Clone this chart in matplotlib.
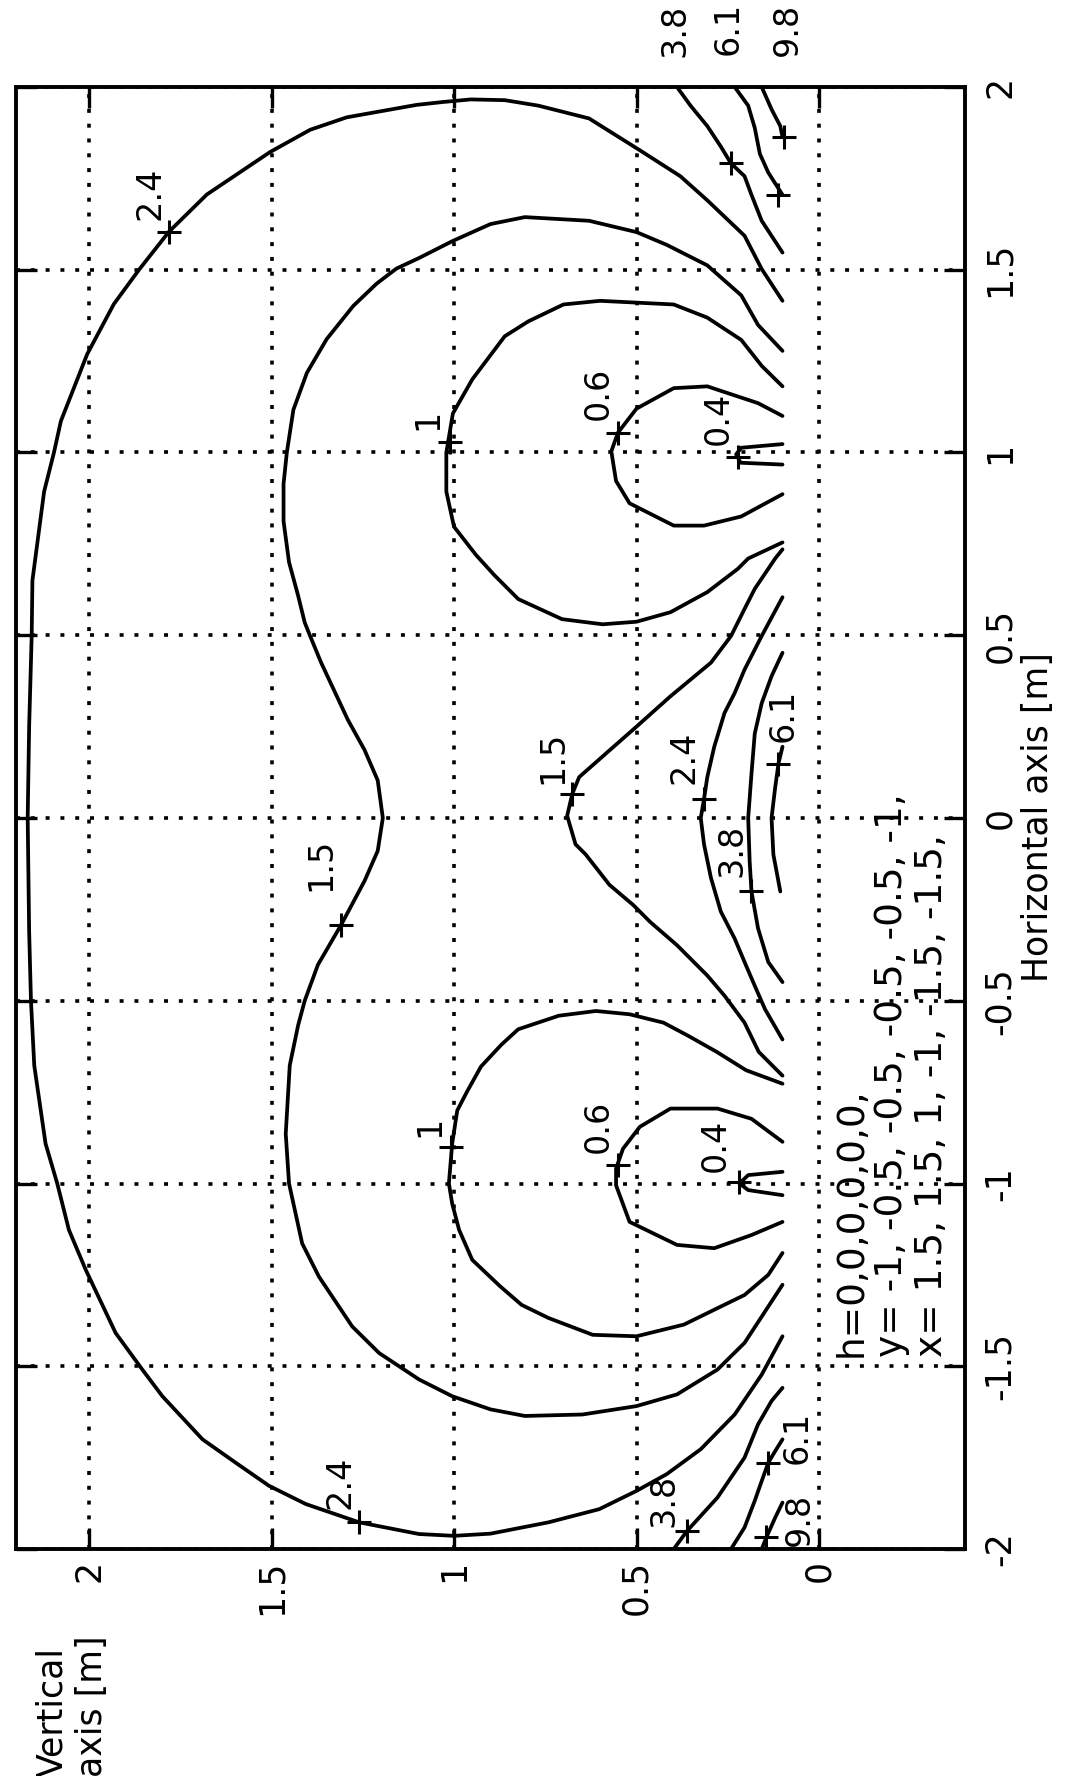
import matplotlib
matplotlib.use('Agg')
import matplotlib.pyplot as plt
import numpy as np

plt.rcParams['font.family'] = ['DejaVu Sans']
plt.rcParams['axes.unicode_minus'] = False

# ---------------- data (original coordinates: x = horizontal axis, y = vertical axis) -------------
# level 2.4, outer curve
c24o_x = [1.415, 1.502, 1.593, 1.690, 1.756, 1.827, 1.914, 1.949, 1.964, 1.966, 1.959, 1.951, 1.917, 1.883,
          1.822, 1.706, 1.604, 1.5, 1.406, 1.269, 1.086, 1.0, 0.893, 0.65, 0.5, 0.25, 0.0, -0.31, -0.5,
          -0.677, -0.891, -1.0, -1.127, -1.236, -1.409, -1.509, -1.582, -1.7, -1.764, -1.827, -1.877,
          -1.927, -1.959, -1.964, -1.958, -1.927, -1.891, -1.841, -1.795, -1.727, -1.632, -1.523, -1.418]
c24o_y = [0.10, 0.157, 0.204, 0.306, 0.380, 0.491, 0.630, 0.769, 0.861, 0.954, 1.03, 1.103, 1.294, 1.394,
          1.504, 1.677, 1.781, 1.863, 1.932, 2.005, 2.077, 2.096, 2.123, 2.155, 2.157, 2.164, 2.168, 2.164,
          2.159, 2.150, 2.119, 2.087, 2.055, 2.009, 1.927, 1.854, 1.799, 1.689, 1.598, 1.507, 1.406, 1.260,
          1.096, 1.0, 0.9, 0.741, 0.602, 0.5, 0.417, 0.324, 0.231, 0.157, 0.10]
# level 1.5, outer curve
c15o_x = [1.278, 1.349, 1.430, 1.512, 1.568, 1.603, 1.634, 1.644, 1.625, 1.579, 1.533, 1.503, 1.462, 1.401,
          1.310, 1.218, 1.117, 1.0, 0.914, 0.812, 0.70, 0.608, 0.535, 0.5, 0.425, 0.269, 0.186, 0.103, 0.0,
          -0.09, -0.172, -0.292, -0.402, -0.5, -0.567, -0.677, -0.864, -1.0, -1.164, -1.255, -1.391, -1.464,
          -1.536, -1.582, -1.618, -1.636, -1.632, -1.609, -1.577, -1.509, -1.436, -1.323, -1.277]
c15o_y = [0.10, 0.167, 0.213, 0.306, 0.417, 0.5, 0.630, 0.806, 0.9, 1.003, 1.094, 1.158, 1.212, 1.276,
          1.349, 1.403, 1.440, 1.458, 1.467, 1.467, 1.452, 1.427, 1.409, 1.395, 1.364, 1.291, 1.245, 1.209,
          1.195, 1.209, 1.245, 1.309, 1.373, 1.409, 1.427, 1.450, 1.461, 1.452, 1.416, 1.370, 1.279, 1.205,
          1.096, 1.005, 0.9, 0.806, 0.648, 0.5, 0.389, 0.278, 0.204, 0.130, 0.10]
# level 1.5, central curve
c15c_x = [0.735, 0.71, 0.627, 0.572, 0.498, 0.425, 0.333, 0.250, 0.185, 0.112, 0.066, 0.006, -0.072, -0.1,
          -0.183, -0.238, -0.284, -0.348, -0.431, -0.486, -0.56, -0.64, -0.705]
c15c_y = [0.10, 0.12, 0.176, 0.204, 0.241, 0.296, 0.407, 0.5, 0.574, 0.657, 0.676, 0.690, 0.667, 0.639,
          0.574, 0.509, 0.463, 0.389, 0.306, 0.259, 0.204, 0.165, 0.10]
# level 1, right lobe
c1r_x = [0.754, 0.71, 0.682, 0.618, 0.563, 0.537, 0.530, 0.544, 0.599, 0.664, 0.72, 0.797, 0.893, 1.0,
         1.107, 1.2, 1.318, 1.359, 1.405, 1.415, 1.405, 1.369, 1.308, 1.237, 1.181]
c1r_y = [0.10, 0.194, 0.222, 0.306, 0.407, 0.5, 0.593, 0.704, 0.824, 0.889, 0.94, 1.0, 1.021, 1.021,
         1.003, 0.95, 0.861, 0.796, 0.7, 0.60, 0.398, 0.306, 0.213, 0.157, 0.10]
# level 1, left lobe
c1l_x = [-0.727, -0.69, -0.64, -0.595, -0.56, -0.537, -0.528, -0.541, -0.578, -0.62, -0.68, -0.75, -0.8,
         -0.891, -1.0, -1.055, -1.127, -1.209, -1.28, -1.332, -1.368, -1.414, -1.418, -1.386, -1.341,
         -1.305, -1.25, -1.19]
c1l_y = [0.10, 0.2, 0.28, 0.36, 0.426, 0.519, 0.611, 0.713, 0.824, 0.87, 0.926, 0.965, 0.991, 1.005,
         1.014, 1.005, 0.986, 0.950, 0.875, 0.815, 0.741, 0.620, 0.5, 0.370, 0.278, 0.204, 0.139, 0.10]
# level 0.6
c06r_x = [1.100, 1.135, 1.181, 1.176, 1.120, 1.054, 1.003, 0.922, 0.861, 0.800, 0.800, 0.825, 0.886]
c06r_y = [0.10, 0.167, 0.306, 0.398, 0.5, 0.551, 0.569, 0.556, 0.519, 0.398, 0.315, 0.213, 0.10]
c06l_x = [-0.886, -0.823, -0.795, -0.795, -0.845, -0.905, -0.959, -1.005, -1.105, -1.168, -1.177, -1.141, -1.105]
c06l_y = [0.10, 0.185, 0.278, 0.407, 0.491, 0.537, 0.556, 0.556, 0.519, 0.389, 0.287, 0.185, 0.10]
# level 0.4
c04r_x = [1.023, 1.013, 0.995, 0.972, 0.967]
c04r_y = [0.10, 0.213, 0.227, 0.215, 0.10]
c04l_x = [-0.968, -0.977, -1.0, -1.018, -1.032]
c04l_y = [0.10, 0.194, 0.218, 0.194, 0.10]
# level 2.4, central curve
c24c_x = [0.604, 0.498, 0.406, 0.342, 0.287, 0.195, 0.112, 0.052, 0.0, -0.072, -0.164, -0.256, -0.330,
          -0.394, -0.459, -0.523, -0.606]
c24c_y = [0.10, 0.157, 0.204, 0.231, 0.259, 0.287, 0.306, 0.315, 0.324, 0.315, 0.296, 0.269, 0.231,
          0.204, 0.176, 0.148, 0.10]
# level 3.8
c38c_x = [0.452, 0.388, 0.314, 0.231, 0.121, 0.0, -0.118, -0.201, -0.302, -0.394, -0.449]
c38c_y = [0.10, 0.130, 0.157, 0.176, 0.185, 0.194, 0.190, 0.185, 0.167, 0.139, 0.10]
c38r_x = [2.0, 1.949, 1.893, 1.837, 1.791, 1.756, 1.705, 1.634, 1.547]
c38r_y = [0.389, 0.352, 0.306, 0.269, 0.241, 0.204, 0.185, 0.157, 0.10]
c38l_x = [-2.0, -1.95, -1.859, -1.75, -1.659, -1.595, -1.559]
c38l_y = [0.398, 0.361, 0.278, 0.204, 0.167, 0.130, 0.10]
# level 6.1
c61c_x = [0.195, 0.149, 0.084, 0.0, -0.1, -0.201]
c61c_y = [0.10, 0.111, 0.120, 0.130, 0.125, 0.106]
c61r_x = [2.0, 1.949, 1.888, 1.817, 1.766, 1.705]
c61r_y = [0.231, 0.194, 0.176, 0.162, 0.139, 0.10]
c61l_x = [-2.0, -1.941, -1.868, -1.814, -1.764, -1.732, -1.70]
c61l_y = [0.241, 0.204, 0.176, 0.157, 0.139, 0.120, 0.10]
# level 9.8
c98r_x = [2.0, 1.939, 1.893, 1.863]
c98r_y = [0.157, 0.130, 0.106, 0.10]
c98l_x = [-2.0, -1.968, -1.914, -1.873]
c98l_y = [0.157, 0.144, 0.120, 0.10]

contour_lines = [(c24o_x, c24o_y), (c15o_x, c15o_y), (c15c_x, c15c_y), (c1r_x, c1r_y), (c1l_x, c1l_y),
                 (c06r_x, c06r_y), (c06l_x, c06l_y), (c04r_x, c04r_y), (c04l_x, c04l_y),
                 (c24c_x, c24c_y), (c38c_x, c38c_y), (c38r_x, c38r_y), (c38l_x, c38l_y),
                 (c61c_x, c61c_y), (c61r_x, c61r_y), (c61l_x, c61l_y), (c98r_x, c98r_y), (c98l_x, c98l_y)]

# clabel '+' markers
mark_x = [1.604, 1.030, 1.054, 0.988, 1.791, 1.705, 1.863, 0.066, 0.052, -0.201, 0.149, -0.292,
          -0.900, -1.927, -0.950, -0.995, -1.950, -1.764, -1.968]
mark_y = [1.781, 1.012, 0.551, 0.222, 0.241, 0.111, 0.097, 0.676, 0.315, 0.185, 0.111, 1.309,
          1.009, 1.260, 0.551, 0.218, 0.361, 0.139, 0.144]
# clabel texts
lab_text = ['2.4', '1', '0.6', '0.4', '3.8', '6.1', '9.8', '1.5', '2.4', '3.8', '6.1', '1.5',
            '1', '2.4', '0.6', '0.4', '3.8', '6.1', '9.8']
lab_x = [1.708, 1.091, 1.161, 1.093, 2.155, 2.160, 2.158, 0.167, 0.165, -0.089, 0.282, -0.126,
         -0.845, -1.818, -0.845, -0.895, -1.868, -1.694, -1.918]
lab_y = [1.833, 1.071, 0.604, 0.276, 0.394, 0.248, 0.086, 0.730, 0.370, 0.239, 0.097, 1.365,
         1.067, 1.313, 0.606, 0.285, 0.424, 0.060, 0.054]

vert_ticks = [0, 0.5, 1, 1.5, 2]
vert_ticklabels = ['0', '0.5', '1', '1.5', '2']
horiz_ticks = [-2, -1.5, -1, -0.5, 0, 0.5, 1, 1.5, 2]
horiz_ticklabels = ['-2', '-1.5', '-1', '-0.5', '0', '0.5', '1', '1.5', '2']

note_text = "h=0,0,0,0,0,0,\ny= -1, -0.5, -0.5, -0.5, -0.5, -1,\nx= 1.5, 1.5, 1, -1, -1.5, -1.5,"

# ---------------- figure (plot drawn rotated by 90 degrees) ----------------
W, H = 1066, 1776
fig = plt.figure(figsize=(W / 100, H / 100), dpi=100)
ax = fig.add_axes([16 / W, (H - 1549) / H, 949 / W, 1462 / H])
ax.set_xlim(2.2, -0.4)
ax.set_ylim(-2, 2)

for cx, cy in contour_lines:
    ax.plot(cy, cx, color='black', lw=2.7, solid_joinstyle='round', solid_capstyle='round')
ax.plot(mark_y, mark_x, linestyle='none', marker='+', ms=17, mew=2.2, color='black')
for t, lx, ly in zip(lab_text, lab_x, lab_y):
    ax.text(ly, lx, t, rotation=90, ha='center', va='center', fontsize=24, clip_on=False)

ax.set_xticks(vert_ticks)
ax.set_xticklabels(vert_ticklabels, rotation=90, fontsize=25)
ax.set_yticks(horiz_ticks)
ax.set_yticklabels(horiz_ticklabels, rotation=90, fontsize=25)
ax.grid(True, color='black', linestyle=(0, (1.1, 3.0)), linewidth=2.6)
ax.tick_params(axis='x', direction='in', length=15, width=2.4, top=True, bottom=True, pad=8)
ax.tick_params(axis='y', direction='in', length=15, width=2.4, left=True, right=True,
               labelleft=False, labelright=True, pad=13)
for lbl in ax.get_yticklabels():
    lbl.set_va('center')
    lbl.set_ha('left')
for sp in ax.spines.values():
    sp.set_linewidth(2.8)

ax.text(-0.04, -1.475, note_text, rotation=90, ha='left', va='bottom', multialignment='left',
        fontsize=27, linespacing=1.15)

fig.text(1038 / W, 1 - 817 / H, 'Horizontal axis [m]', rotation=90, ha='center', va='center', fontsize=25)
fig.text(72 / W, 1 - 1706 / H, 'Vertical\naxis [m]', rotation=90, ha='center', va='center',
         multialignment='left', fontsize=25)

fig.savefig('out.png', dpi=100)
